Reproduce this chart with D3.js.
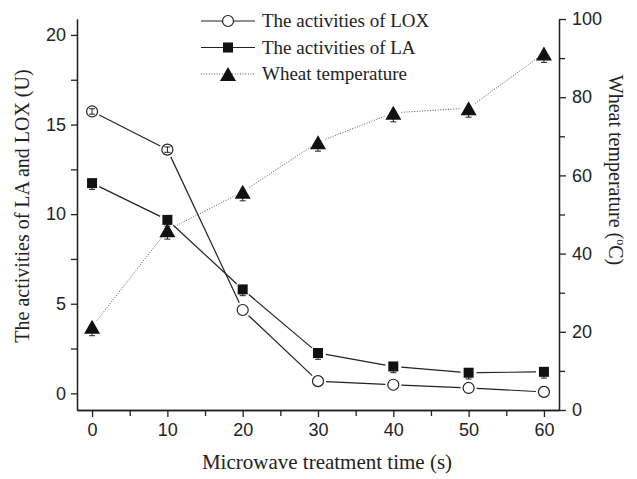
<!DOCTYPE html>
<html>
<head>
<meta charset="utf-8">
<script src="https://cdn.jsdelivr.net/npm/d3@7"></script>
<style>
  body { margin: 0; background: #fff; }
  .tick text { font-family: "Liberation Sans", Arial, sans-serif; font-size: 18px; fill: #222; }
  .axis path, .axis line { stroke: #222; stroke-width: 1.3; }
  .title { font-family: "Liberation Serif", "Times New Roman", serif; font-size: 20px; fill: #222; }
  .legend text { font-family: "Liberation Serif", "Times New Roman", serif; font-size: 19px; fill: #222; }
</style>
</head>
<body>
<div id="chart"></div>
<script>
// data
var times = [0, 10, 20, 30, 40, 50, 60];
var loxVals = [15.73, 13.6, 4.65, 0.68, 0.48, 0.3, 0.08];
var loxErr = [0.15, 0.15, 0, 0, 0, 0, 0];
var laVals = [11.73, 9.68, 5.8, 2.25, 1.5, 1.15, 1.2];
var laErr = [0.35, 0.35, 0.35, 0.35, 0.35, 0.35, 0.35];
var tempVals = [21.3, 46.0, 55.8, 68.5, 76.0, 77.2, 91.2];
var tempErr = [2.3, 2.3, 2.3, 2.3, 2.3, 2.3, 2.3];

var xTicks = [0, 10, 20, 30, 40, 50, 60];
var leftTicks = [0, 5, 10, 15, 20];
var rightTicks = [0, 20, 40, 60, 80, 100];
var legendLabels = ["The activities of LOX", "The activities of LA", "Wheat temperature"];

window.onload = () => {
  var W = 637, H = 479;
  var margin = { top: 19, right: 78, bottom: 69, left: 77 };

  var svg = d3.select("#chart").append("svg")
    .attr("width", W)
    .attr("height", H);

  var x = d3.scaleLinear().domain([-2, 62]).range([margin.left, W - margin.right]);
  var yL = d3.scaleLinear().domain([-0.93, 20.89]).range([H - margin.bottom, margin.top]);
  var yR = d3.scaleLinear().domain([0, 100]).range([H - margin.bottom, margin.top]);

  // minor ticks first (no labels)
  svg.append("g")
    .attr("class", "axis")
    .attr("transform", "translate(0," + (H - margin.bottom) + ")")
    .call(d3.axisBottom(x).tickValues([5, 15, 25, 35, 45, 55]).tickSize(6).tickSizeOuter(0).tickFormat(""));
  svg.append("g")
    .attr("class", "axis")
    .attr("transform", "translate(" + margin.left + ",0)")
    .call(d3.axisLeft(yL).tickValues([2.5, 7.5, 12.5, 17.5]).tickSize(6).tickSizeOuter(0).tickFormat(""));
  svg.append("g")
    .attr("class", "axis")
    .attr("transform", "translate(" + (W - margin.right) + ",0)")
    .call(d3.axisRight(yR).tickValues([10, 30, 50, 70, 90]).tickSize(6).tickSizeOuter(0).tickFormat(""));

  // major axes
  svg.append("g")
    .attr("class", "axis")
    .attr("transform", "translate(0," + (H - margin.bottom) + ")")
    .call(d3.axisBottom(x).tickValues(xTicks).tickSize(7).tickSizeOuter(0).tickPadding(6));
  svg.append("g")
    .attr("class", "axis")
    .attr("transform", "translate(" + margin.left + ",0)")
    .call(d3.axisLeft(yL).tickValues(leftTicks).tickSize(6).tickSizeOuter(0).tickPadding(5));
  svg.append("g")
    .attr("class", "axis")
    .attr("transform", "translate(" + (W - margin.right) + ",0)")
    .call(d3.axisRight(yR).tickValues(rightTicks).tickSize(7).tickSizeOuter(0).tickPadding(6));

  // axis titles
  svg.append("text")
    .attr("class", "title")
    .attr("x", 327).attr("y", 469)
    .attr("text-anchor", "middle")
    .style("font-size", "21px")
    .text("Microwave treatment time (s)");

  svg.append("text")
    .attr("class", "title")
    .attr("transform", "translate(29,206) rotate(-90)")
    .attr("text-anchor", "middle")
    .text("The activities of LA and LOX (U)");

  var rt = svg.append("text")
    .attr("class", "title")
    .attr("transform", "translate(609,170) rotate(90)")
    .attr("text-anchor", "middle");
  rt.append("tspan").text("Wheat temperature (");
  rt.append("tspan").attr("font-size", "12px").attr("dy", -8).text("o");
  rt.append("tspan").attr("dy", 8).text("C)");

  // helpers
  function triPath(cx, cy) {
    return "M" + cx + "," + (cy - 7) + "L" + (cx + 8) + "," + (cy + 7) + "L" + (cx - 8) + "," + (cy + 7) + "Z";
  }

  function drawMarker(g, kind, cx, cy) {
    if (kind === "circle") {
      g.append("circle").attr("cx", cx).attr("cy", cy).attr("r", 5.5)
        .attr("fill", "#fff").attr("stroke", "#222").attr("stroke-width", 1.2);
    } else if (kind === "square") {
      g.append("rect").attr("x", cx - 5).attr("y", cy - 5).attr("width", 10).attr("height", 10)
        .attr("fill", "#111");
    } else {
      g.append("path").attr("d", triPath(cx, cy)).attr("fill", "#111");
    }
  }

  function drawErr(g, px, yLo, yHi) {
    g.append("line").attr("x1", px).attr("x2", px).attr("y1", yLo).attr("y2", yHi)
      .attr("stroke", "#222").attr("stroke-width", 1);
    [yLo, yHi].forEach(yy => g.append("line")
      .attr("x1", px - 3).attr("x2", px + 3).attr("y1", yy).attr("y2", yy)
      .attr("stroke", "#222").attr("stroke-width", 1));
  }

  // shortened segments so lines stop short of the markers
  function drawSeries(vals, errs, yScale, kind, dash) {
    var g = svg.append("g");
    var pts = times.map((t, i) => [x(t), yScale(vals[i])]);
    var gap = 8;
    for (var i = 0; i < pts.length - 1; i++) {
      var a = pts[i], b = pts[i + 1];
      var dx = b[0] - a[0], dy = b[1] - a[1];
      var len = Math.sqrt(dx * dx + dy * dy);
      if (len <= 2 * gap) continue;
      var ux = dx / len, uy = dy / len;
      g.append("line")
        .attr("x1", a[0] + ux * gap).attr("y1", a[1] + uy * gap)
        .attr("x2", b[0] - ux * gap).attr("y2", b[1] - uy * gap)
        .attr("stroke", dash ? "#555" : "#222")
        .attr("stroke-width", dash ? 1 : 1.2)
        .attr("stroke-dasharray", dash ? "1,1.6" : null);
    }
    var filled = kind !== "circle";
    // filled markers: error bars sit underneath, only the lower part shows
    if (filled) {
      pts.forEach((p, i) => drawErr(g, p[0], yScale(vals[i] - errs[i]), p[1]));
    }
    pts.forEach(p => drawMarker(g, kind, p[0], p[1]));
    if (!filled) {
      pts.forEach((p, i) => {
        if (errs[i] > 0) drawErr(g, p[0], yScale(vals[i] - errs[i]), yScale(vals[i] + errs[i]));
      });
    }
  }

  drawSeries(tempVals, tempErr, yR, "triangle", true);
  drawSeries(laVals, laErr, yL, "square", false);
  drawSeries(loxVals, loxErr, yL, "circle", false);

  // legend
  var kinds = ["circle", "square", "triangle"];
  var legend = svg.append("g").attr("class", "legend");
  legendLabels.forEach((lab, i) => {
    var ly = 21 + i * 26.5;
    legend.append("line")
      .attr("x1", 201).attr("x2", 255).attr("y1", ly).attr("y2", ly)
      .attr("stroke", i === 2 ? "#555" : "#222")
      .attr("stroke-width", i === 2 ? 1 : 1.2)
      .attr("stroke-dasharray", i === 2 ? "1,1.6" : null);
    drawMarker(legend, kinds[i], 228, ly);
    legend.append("text")
      .attr("x", 262).attr("y", ly + 6)
      .text(lab);
  });
};
</script>
</body>
</html>
